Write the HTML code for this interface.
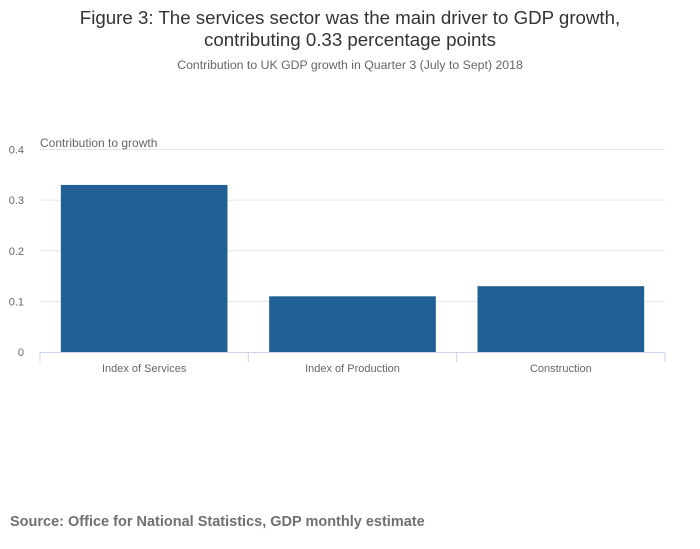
<!DOCTYPE html>
<html><head><meta charset="utf-8"><style>
body{margin:0;background:#fff;width:700px;height:549px;overflow:hidden;font-family:"Liberation Sans",sans-serif}
</style></head><body>
<svg width="700" height="549" style="position:absolute;left:0;top:0">
<text x="350" y="24" text-anchor="middle" font-size="18.7" fill="#333">Figure 3: The services sector was the main driver to GDP growth,</text>
<text x="350" y="46" text-anchor="middle" font-size="18.7" fill="#333">contributing 0.33 percentage points</text>
<text x="350" y="69" text-anchor="middle" font-size="12.3" fill="#666">Contribution to UK GDP growth in Quarter 3 (July to Sept) 2018</text>
<g id="grid"></g><g id="bars"></g><g id="axes"></g>
<text x="40" y="147" font-size="12" fill="#666">Contribution to growth</text>
<text x="10" y="526" font-size="14.5" font-weight="bold" fill="#707070">Source: Office for National Statistics, GDP monthly estimate</text>
</svg>
<script>
const categories=["Index of Services","Index of Production","Construction"];
const values=[0.33,0.11,0.13];
const yTicks=[0,0.1,0.2,0.3,0.4];
const yTickLabels=["0","0.1","0.2","0.3","0.4"];
const NS="http://www.w3.org/2000/svg";
const x0=40,x1=665,yTop=149.5,yBot=352,yMax=0.4;
const y=v=>yBot-(v/yMax)*(yBot-yTop);
const band=(x1-x0)/categories.length;
const bx=i=>x0+i*band;
function mk(t,a,p){const e=document.createElementNS(NS,t);for(const k in a)e.setAttribute(k,a[k]);p.appendChild(e);return e;}
const g=document.getElementById('grid'),b=document.getElementById('bars'),ax=document.getElementById('axes');
yTicks.forEach((v,i)=>{
 if(v>0){const l=mk('line',{x1:x0,x2:x1,y1:y(v),y2:y(v),stroke:'#e6e6e6','stroke-width':1},g);
 
 }
 const t=mk('text',{x:24,y:y(v)+4,'text-anchor':'end','font-size':11,fill:'#666'},ax);t.textContent=yTickLabels[i];
 
 
});
categories.forEach((c,i)=>{
 const w=band*0.8,x=bx(i)+band*0.1;
 const r=mk('rect',{x:x,y:y(values[i]),width:w,height:yBot-y(values[i]),fill:'#206095'},b);
 
 
 const t=mk('text',{x:bx(i)+band/2,y:372,'text-anchor':'middle','font-size':11,fill:'#666'},ax);t.textContent=c;
 
 
});
const al=mk('line',{x1:x0,x2:x1,y1:yBot+0.5,y2:yBot+0.5,stroke:'#ccd6eb'},ax);


for(let i=0;i<=categories.length;i++){const tk=mk('line',{x1:bx(i),x2:bx(i),y1:yBot,y2:yBot+10,stroke:'#ccd6eb'},ax);
 
 }
</script>
</body></html>
